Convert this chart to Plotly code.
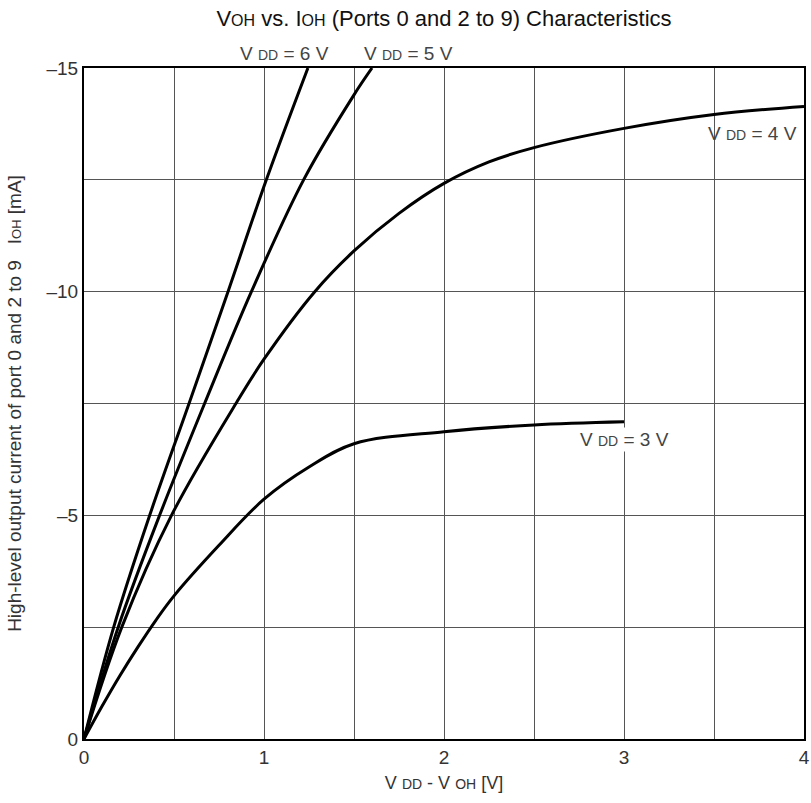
import plotly.graph_objects as go

# V_DD - V_OH [V] and I_OH [mA], one pair of lists per curve
vdd3_x = [0, 0.1, 0.2, 0.3, 0.4, 0.5, 0.75, 1.0, 1.25, 1.5, 2.0, 2.5, 3.0]
vdd3_i = [0, -0.73, -1.42, -2.06, -2.66, -3.2, -4.33, -5.36, -6.08, -6.6, -6.87, -7.02, -7.09]

vdd4_x = [0, 0.21, 0.486, 0.85, 1.0, 1.282, 1.5, 1.75, 2.0, 2.25, 2.5, 3.0, 3.5, 4.0]
vdd4_i = [0, -2.5, -5.0, -7.54, -8.49, -10.0, -10.91, -11.75, -12.42, -12.9, -13.22, -13.65, -13.96, -14.14]

vdd5_x = [0, 0.19, 0.42, 0.67, 0.93, 1.22, 1.5, 1.6]
vdd5_i = [0, -2.5, -5.0, -7.5, -10.0, -12.5, -14.4, -15.0]

vdd6_x = [0, 0.165, 0.365, 0.587, 0.8, 1.013, 1.244]
vdd6_i = [0, -2.5, -5.0, -7.54, -10.0, -12.5, -15.0]

x_ticks = [0, 1, 2, 3, 4]
y_ticks = [0, -5, -10, -15]
y_tick_text = ["0", "\u20135", "\u201310", "\u201315"]

FONT = "Liberation Sans, Arial, sans-serif"
W, H = 811, 803


def sub(t, size=14):
    return "<span style='font-size:{}px'>{}</span>".format(size, t)


fig = go.Figure()
for xs, ys in [(vdd3_x, vdd3_i), (vdd4_x, vdd4_i), (vdd5_x, vdd5_i), (vdd6_x, vdd6_i)]:
    fig.add_trace(go.Scatter(
        x=xs, y=ys, mode="lines",
        line=dict(color="black", width=3, shape="spline", smoothing=1.0),
        showlegend=False, hoverinfo="skip",
    ))

label_font = dict(family=FONT, size=19, color="#444")
top_y = 1 + 14 / 671
fig.add_annotation(x=0.279, y=top_y, xref="paper", yref="paper", xanchor="center", yanchor="middle",
                   text="V " + sub("DD") + " = 6 V", showarrow=False, font=label_font)
fig.add_annotation(x=0.451, y=top_y, xref="paper", yref="paper", xanchor="center", yanchor="middle",
                   text="V " + sub("DD") + " = 5 V", showarrow=False, font=label_font)
fig.add_annotation(x=3.97, y=-13.53, xanchor="right", yanchor="middle",
                   text="V " + sub("DD") + " = 4 V", showarrow=False, font=label_font)
fig.add_annotation(x=3.005, y=-6.69, xanchor="center", yanchor="middle",
                   text="V " + sub("DD") + " = 3 V", showarrow=False, font=label_font,
                   bgcolor="white", borderpad=1)

fig.update_layout(
    width=W, height=H,
    margin=dict(l=84, r=7, t=68, b=64, autoexpand=False),
    plot_bgcolor="white", paper_bgcolor="white",
    font=dict(family=FONT, color="#333"),
    title=dict(
        text="V" + sub("OH", 16) + " vs. I" + sub("OH", 16)
             + " (Ports 0 and 2 to 9) Characteristics",
        x=444 / W, xanchor="center", xref="container",
        y=1 - 18 / H, yanchor="middle", yref="container",
        font=dict(family=FONT, size=22, color="#111"),
        automargin=False,
    ),
)
grid = dict(showgrid=True, gridcolor="#555", gridwidth=1)
fig.update_xaxes(
    range=[0, 4], tickmode="array", tickvals=x_ticks, showline=True, mirror=True,
    linecolor="black", linewidth=2, zeroline=False, ticks="", automargin=False,
    tickfont=dict(family=FONT, size=19, color="#333"),
    minor=dict(tickvals=[0.5, 1.5, 2.5, 3.5], **grid),
    title=dict(text="V " + sub("DD", 14) + " - V " + sub("OH", 14) + " [V]",
               font=dict(family=FONT, size=18, color="#333"), standoff=10),
    **grid,
)
fig.update_yaxes(
    range=[0, -15], tickmode="array", tickvals=y_ticks, ticktext=y_tick_text,
    showline=True, mirror=True, linecolor="black", linewidth=2,
    zeroline=False, ticks="", automargin=False,
    tickfont=dict(family=FONT, size=19, color="#333"),
    minor=dict(tickvals=[-2.5, -7.5, -12.5], **grid),
    title=dict(text="High-level output current of port 0 and 2 to 9 &nbsp;&nbsp;I" + sub("OH", 13) + " [mA]",
               font=dict(family=FONT, size=19, color="#333"), standoff=20),
    **grid,
)

# drop the default 8px page margin so the figure fills the window exactly
fig.write_html("out.html", config={"displayModeBar": False},
               post_script="document.body.style.margin='0';")
